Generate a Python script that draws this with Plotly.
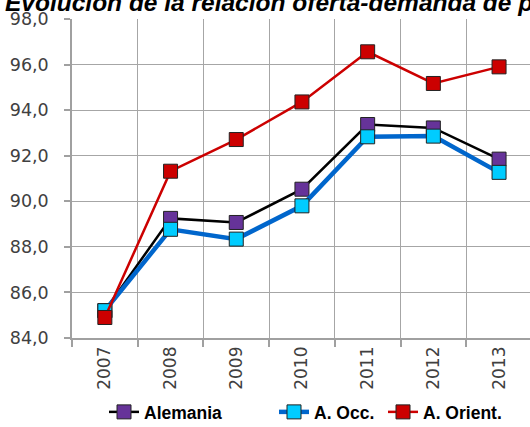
import plotly.graph_objects as go

years = ["2007", "2008", "2009", "2010", "2011", "2012", "2013"]
alemania = [85.2, 89.25, 89.07, 90.53, 93.37, 93.22, 91.85]
a_occ = [85.2, 88.77, 88.34, 89.8, 92.83, 92.86, 91.27]
a_orient = [84.9, 91.32, 92.71, 94.36, 96.56, 95.17, 95.9]

title_text = "Evolución de la relación oferta-demanda de p"

W, H = 530, 427
L, R, T, B = 72, 0, 19, 89
pw, ph = W - L - R, H - T - B

def px2x(px):
    return (px - L) / pw

def px2y(py):
    return (H - B - py) / ph

series = [
    ("Alemania", alemania, "#000000", 2.5, "#663399", "legend", 104),
    ("A. Occ.", a_occ, "#0066CC", 4.5, "#00CCFF", "legend2", 274),
    ("A. Orient.", a_orient, "#CC0000", 2.5, "#CC0000", "legend3", 383),
]

fig = go.Figure()
for name, vals, lc, lw, mc, lg, lx in series:
    fig.add_trace(go.Scatter(
        x=years, y=vals, name="<b>" + name + "</b>", mode="lines+markers",
        line=dict(color=lc, width=lw),
        marker=dict(symbol="square", size=14, color=mc,
                    line=dict(color="#222222", width=1)),
        legend=lg,
    ))

legend_common = dict(orientation="h", xanchor="left", yanchor="middle",
                     font=dict(family="Liberation Sans", size=17.5, color="#000000"),
                     bgcolor="rgba(0,0,0,0)", itemwidth=30, tracegroupgap=0)

layout_legends = {}
for name, vals, lc, lw, mc, lg, lx in series:
    d = dict(legend_common)
    d["x"] = px2x(lx)
    d["y"] = px2y(412)
    layout_legends[lg] = d

fig.update_layout(
    width=W, height=H,
    margin=dict(l=L, r=R, t=T, b=B, pad=0, autoexpand=False),
    paper_bgcolor="white", plot_bgcolor="white",
    separators=",.",
    showlegend=True,
    font=dict(family="DejaVu Sans", color="#404040"),
    xaxis=dict(
        type="category", range=[-0.5, 6.471],
        tickson="boundaries", ticks="outside", ticklen=7, tickwidth=1.5,
        tickcolor="#A0A0A0",
        showgrid=True, gridcolor="#A6A6A6", gridwidth=1.3,
        showline=True, linecolor="#A0A0A0", linewidth=1.5,
        tickangle=-90, tickfont=dict(family="DejaVu Sans", size=17, color="#404040"),
        zeroline=False, fixedrange=True,
    ),
    yaxis=dict(
        range=[84, 98], dtick=2, tick0=84, tickformat=".1f",
        ticks="outside", ticklen=6, tickwidth=1.5, tickcolor="#A0A0A0",
        showgrid=True, gridcolor="#A6A6A6", gridwidth=1.3,
        showline=True, linecolor="#A0A0A0", linewidth=1.5,
        tickfont=dict(family="DejaVu Sans", size=17.5, color="#404040"),
        ticklabelstandoff=12,
        zeroline=False, fixedrange=True,
    ),
    annotations=[dict(
        text="<b><i>" + title_text + "</i></b>",
        xref="paper", yref="paper", x=px2x(3), y=px2y(3),
        xanchor="left", yanchor="middle", showarrow=False,
        font=dict(family="Liberation Sans", size=24.5, color="#000000"),
    )],
    **layout_legends,
)

fig.write_html(
    "out.html",
    config={"displayModeBar": False},
    post_script="document.body.style.margin='0';document.body.style.overflow='hidden';",
)
